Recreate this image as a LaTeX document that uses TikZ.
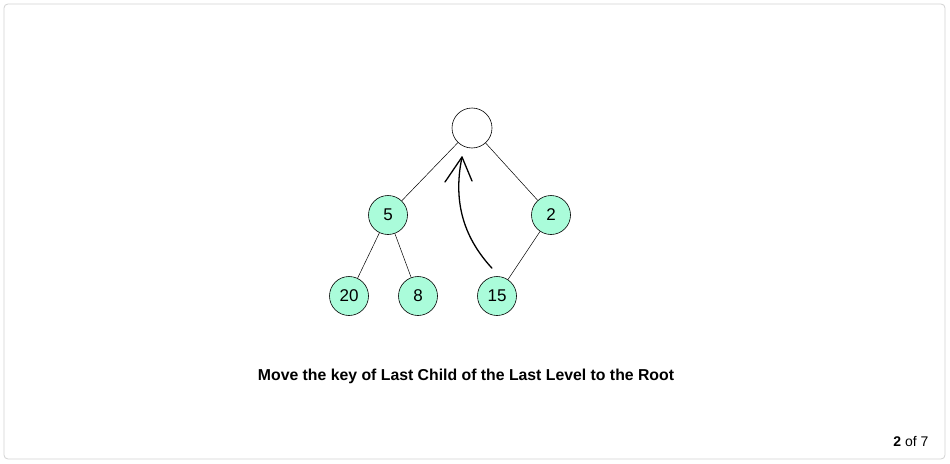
\documentclass[tikz,border=0pt]{standalone}
\usepackage{fontspec}
\setmainfont{Liberation Sans}
\begin{document}
\begin{tikzpicture}[x=1pt,y=-1pt,
  keynode/.style={circle,draw=black,line width=0.6pt,fill=mint,minimum size=39pt,inner sep=0pt,font=\fontsize{17}{17}\selectfont},
  rootnode/.style={circle,draw=black,line width=0.6pt,fill=white,minimum size=40pt,inner sep=0pt},
  edge/.style={draw=black,line width=0.5pt}]
\definecolor{mint}{RGB}{170,252,218}
\definecolor{frame}{RGB}{210,210,210}
\useasboundingbox (0,0) rectangle (950,463);
\draw[frame,rounded corners=4pt,line width=0.8pt] (4,4) rectangle (945,459);
\node[rootnode] (r) at (472,128) {};
\node[keynode] (n5) at (388,215) {5};
\node[keynode] (n2) at (551,215) {2};
\node[keynode] (n20) at (349,296) {20};
\node[keynode] (n8) at (418,296) {8};
\node[keynode] (n15) at (497,296) {15};
\draw[edge] (r) -- (n5);
\draw[edge] (r) -- (n2);
\draw[edge] (n5) -- (n20);
\draw[edge] (n5) -- (n8);
\draw[edge] (n2) -- (n15);
\coordinate (tip) at (462,157);
\coordinate (ha) at (445,182);
\coordinate (hb) at (472,181);
\draw[line width=1.3pt,line cap=round] (n15.north) ++(-5,-8) coordinate (tail) .. controls (466,240) and (452,205) .. (tip);
\draw[line width=1.3pt,line cap=round,line join=round] (ha) -- (tip) -- (hb);
\node[font=\bfseries\fontsize{15.8}{16}\selectfont] (cap) at (466,376) {Move the key of Last Child of the Last Level to the Root};
\node[font=\fontsize{14}{14}\selectfont] (pg) at (911,441) {\textbf{2} of 7};
\end{tikzpicture}
\end{document}
